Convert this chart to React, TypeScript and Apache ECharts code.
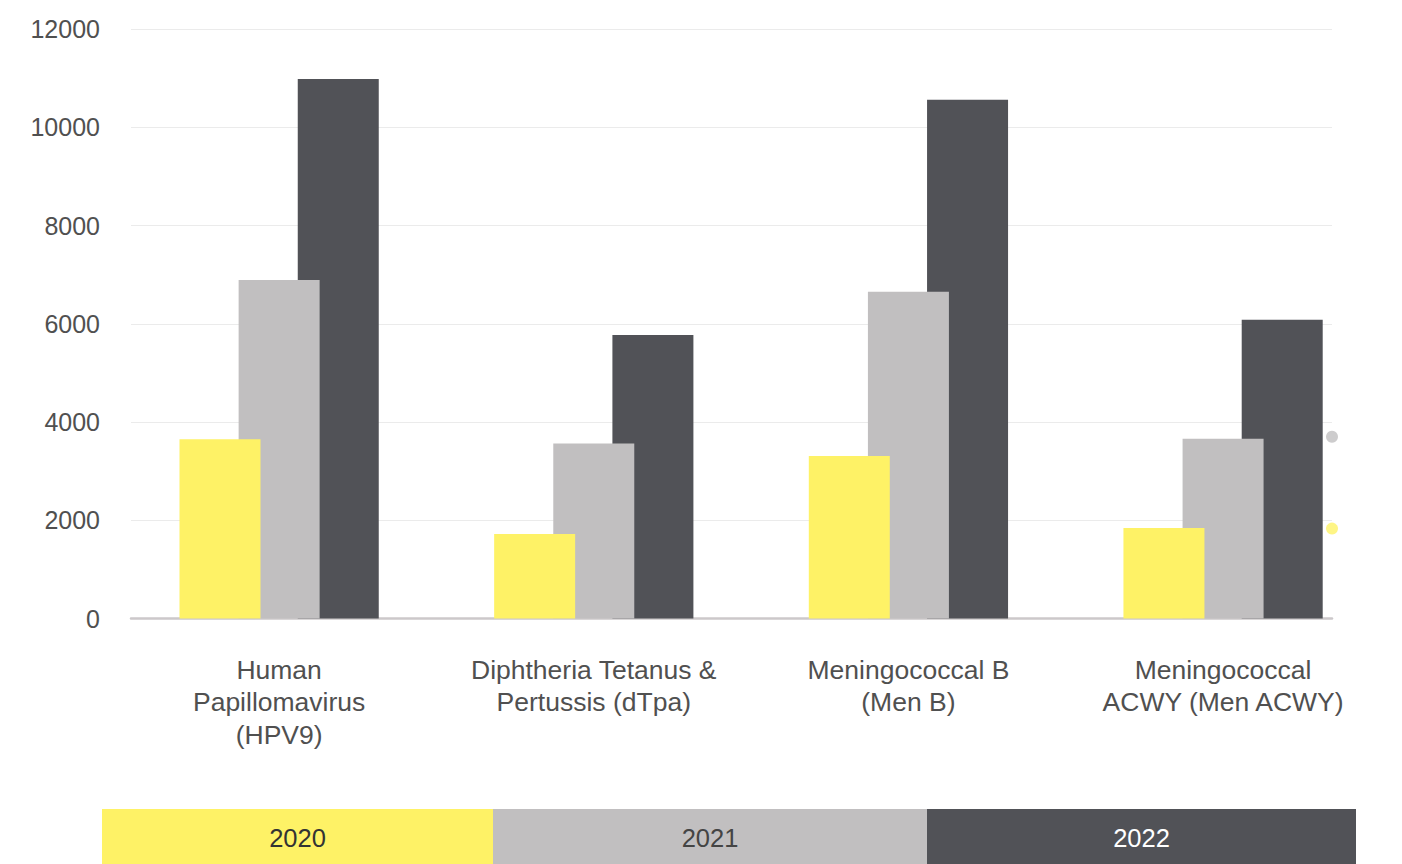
import React, { useEffect, useRef } from "react";
import * as echarts from "echarts";

const categories = [
  "Human\nPapillomavirus\n(HPV9)",
  "Diphtheria Tetanus &\nPertussis (dTpa)",
  "Meningococcal B\n(Men B)",
  "Meningococcal\nACWY (Men ACWY)",
];
const years = ["2020", "2021", "2022"];
const values2020 = [3650, 1720, 3310, 1840];
const values2021 = [6890, 3560, 6650, 3660];
const values2022 = [10980, 5770, 10560, 6080];
const dots2021 = [null, null, null, 3700];
const dots2020 = [null, null, null, 1830];
const yTicks = { min: 0, max: 12000, interval: 2000 };

const colors = ["#fef266", "#c1bfc0", "#515257"];
const legendTextColors = ["#333333", "#444444", "#ffffff"];
const FONT = "'Liberation Sans', Arial, Helvetica, sans-serif";

export default function App() {
  const ref = useRef<HTMLDivElement>(null);
  useEffect(() => {
    document.body.style.margin = "0";
    const chart = echarts.init(ref.current!, null, { renderer: "svg" });
    const W = 1402;
    const legendEdges = [102, 493, 927, 1356];
    const legendGraphics: any[] = [];
    years.forEach((y, i) => {
      const x0 = legendEdges[i];
      const x1 = legendEdges[i + 1];
      legendGraphics.push({
        type: "rect",
        left: x0,
        top: 809,
        shape: { width: x1 - x0, height: 55 },
        style: { fill: colors[i] },
        silent: true,
      });
      legendGraphics.push({
        type: "text",
        x: (x0 + x1) / 2,
        y: 838,
        style: {
          text: y,
          fill: legendTextColors[i],
          font: `25.5px ${FONT}`,
          textAlign: "center",
          textVerticalAlign: "middle",
        },
        silent: true,
      });
    });

    const seriesValues = [values2020, values2021, values2022];
    const barSeries = years.map((y, i) => ({
      name: y,
      type: "bar",
      xAxisIndex: 1,
      yAxisIndex: 1,
      data: seriesValues[i],
      barWidth: 81,
      barGap: "-27%",
      z: 5 - i,
      itemStyle: { color: colors[i] },
    }));

    const option: any = {
      animation: false,
      textStyle: { fontFamily: FONT },
      grid: [
        { left: 131, right: W - 1332, top: 29, bottom: 864 - 618.5 },
        { left: 121.8, right: W - 1380.4, top: 29, bottom: 864 - 618.5 },
      ],
      xAxis: [
        {
          type: "category",
          gridIndex: 0,
          data: categories,
          boundaryGap: false,
          axisLine: { show: true, lineStyle: { color: "#ccc8ca", width: 2.5 } },
          axisTick: { show: false },
          axisLabel: { show: false },
          splitLine: { show: false },
        },
        {
          type: "category",
          gridIndex: 1,
          data: categories,
          axisLine: { show: false },
          axisTick: { show: false },
          splitLine: { show: false },
          axisLabel: {
            margin: 35,
            fontSize: 26.5,
            lineHeight: 32.5,
            color: "#505050",
            fontFamily: FONT,
            interval: 0,
            align: "center",
          },
        },
      ],
      yAxis: [
        {
          type: "value",
          gridIndex: 0,
          ...yTicks,
          axisLine: { show: false },
          axisTick: { show: false },
          axisLabel: {
            margin: 31,
            fontSize: 25,
            color: "#505050",
            fontFamily: FONT,
            formatter: (v: number) => String(v),
          },
          splitLine: { lineStyle: { color: "#ebebeb", width: 1 } },
        },
        {
          type: "value",
          gridIndex: 1,
          ...yTicks,
          show: false,
          splitLine: { show: false },
        },
      ],
      series: [
        ...barSeries,
        {
          type: "scatter",
          xAxisIndex: 0,
          yAxisIndex: 0,
          data: dots2021,
          symbolSize: 12,
          itemStyle: { color: colors[1] },
          z: 6,
        },
        {
          type: "scatter",
          xAxisIndex: 0,
          yAxisIndex: 0,
          data: dots2020,
          symbolSize: 12,
          itemStyle: { color: colors[0] },
          z: 6,
        },
      ],
      graphic: legendGraphics,
    };
    chart.setOption(option);
    return () => chart.dispose();
  }, []);
  return (
    <div
      ref={ref}
      style={{ position: "absolute", left: 0, top: 0, width: 1402, height: 864 }}
    />
  );
}
